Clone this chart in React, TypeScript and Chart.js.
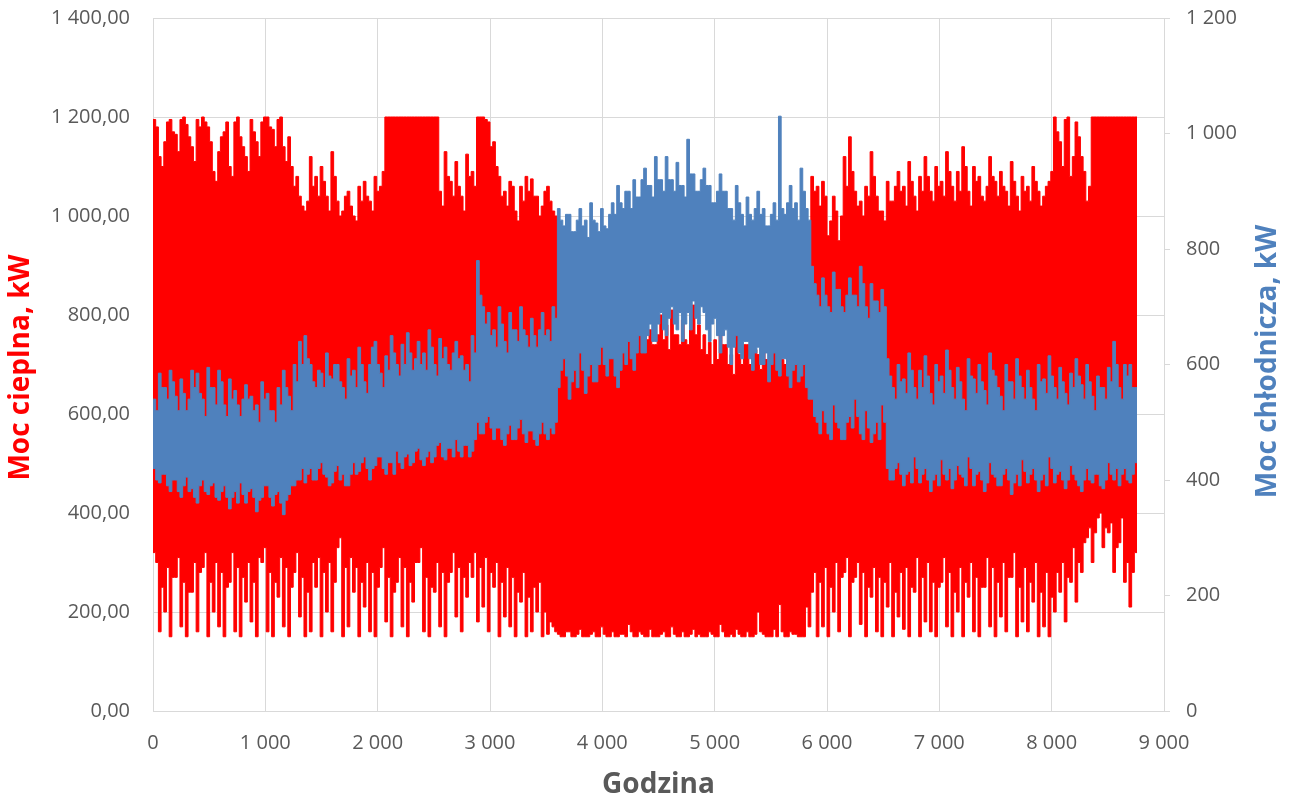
import React, { useEffect, useRef } from 'react';
import { Chart, registerables } from 'chart.js';

Chart.register(...registerables);

// Each value covers one day of the year (bin i = hours 24*i .. 24*i+24).
const BIN_HOURS = 24;
const LAST_HOUR = 8760;

// Heat power (left axis, kW): highest value reached each day
const redHigh: number[] = [
  1195, 1180, 1120, 1100, 1150, 1190, 1195, 1170, 1165, 1130,
  1195, 1200, 1185, 1160, 1140, 1110, 1195, 1180, 1200, 1190,
  1180, 1150, 1090, 1070, 1130, 1160, 1170, 1190, 1100, 1080,
  1190, 1200, 1160, 1140, 1120, 1090, 1195, 1170, 1150, 1120,
  1190, 1200, 1200, 1180, 1175, 1140, 1195, 1200, 1140, 1110,
  1160, 1100, 1060, 1080, 1040, 1020,
  1010, 1030, 1120, 1060, 1080, 1040, 1100, 1070, 1040, 1010,
  1130, 1080, 1030, 1000, 1010, 1040, 1050, 1020, 1000, 990,
  1060, 1030, 1070, 1040, 1030, 1010, 1080, 1050, 1060, 1090,
  1200, 1200, 1200, 1200, 1200, 1200, 1200, 1200, 1200, 1200,
  1200, 1200, 1200, 1200, 1200, 1200, 1200, 1200, 1200, 1200,
  1050, 1020, 1130, 1080, 1070, 1040, 1110, 1060, 1040, 1010, 1125, 1080, 1090, 1060,
  1200, 1200, 1200, 1195, 1190, 1140,
  1150, 1100, 1080, 1040, 1050, 1020, 1070, 1060, 1010, 990,
  1060, 1030, 1080, 1050, 1075, 1040, 1040, 1000, 1020, 1050,
  1060, 1030, 1010, 1000,
  760, 720, 740, 700, 720, 690, 770, 730, 730, 700, 750, 710, 700, 740, 780, 720, 740, 700, 720, 760,
  760, 710, 735, 700, 800, 740, 750, 720, 790, 740, 760, 730, 820, 750, 770, 740, 740, 760, 800, 750,
  780, 730, 810, 760, 760, 740, 790, 750, 740, 770, 820, 760, 780, 730, 760, 720, 745, 700, 750, 710,
  790, 740, 740, 700, 720, 680, 760, 720, 700, 740, 740, 700, 770, 730, 720, 690, 760, 710, 690, 720,
  730, 700, 750, 710, 700, 730, 740, 700, 760, 720, 730, 700, 720, 690,
  1080, 1050, 1060, 1020, 1070, 1040, 960, 990, 1040, 1010, 950, 1000, 1120, 1060, 1160,
  1090, 1050, 1020, 1030, 1000, 1060, 1040, 1130, 1080, 1040, 1010, 1010, 990, 1070, 1030,
  1030, 1060, 1090, 1050, 1060, 1020, 1110, 1070, 1040, 1010, 1080, 1050, 1120, 1080, 1050, 1030, 1100, 1060, 1070, 1040,
  1130, 1090, 1060, 1030, 1090, 1050, 1140, 1100, 1050, 1020, 1100, 1070, 1080, 1040, 1030, 1060, 1120, 1080, 1070, 1040,
  1090, 1060, 1050, 1020, 1110, 1070, 1040, 1010, 1080, 1050, 1060, 1030, 1100, 1070, 1050, 1020, 1040, 1060, 1070, 1090,
  1200, 1170, 1150, 1100, 1195, 1200, 1080, 1120, 1190, 1160, 1120, 1090, 1030, 1060,
  1200, 1200, 1200, 1200, 1200, 1200, 1200, 1200, 1200, 1200, 1200, 1200, 1200, 1200, 1200, 1200, 1200,
];

// Heat power (left axis, kW): lowest value reached each day
const redLow: number[] = [
  320, 300, 160, 250, 200, 290, 150, 270, 270, 310, 170, 260, 150, 240, 240, 300, 160, 280, 290, 320,
  150, 260, 200, 300, 170, 280, 150, 250, 260, 320, 160, 290, 150, 270, 220, 300, 180, 260, 150, 310,
  300, 330, 160, 280, 150, 260, 230, 310, 170, 290, 150, 250, 280, 320, 190, 270, 150, 240, 160, 300,
  250, 310, 150, 280, 200, 300, 160, 260, 330, 350, 150, 290, 170, 310, 240, 290, 150, 260, 210, 300,
  160, 280, 150, 250, 290, 330, 180, 270, 150, 240, 260, 310, 170, 290, 150, 260, 220, 300, 300, 330,
  160, 270, 150, 250, 240, 300, 170, 280, 150, 260, 280, 320, 190, 290, 160, 270, 230, 300, 270, 320,
  180, 290, 210, 310, 160, 280, 250, 300, 150, 260, 190, 290, 170, 270, 150, 240, 220, 280, 150, 230,
  160, 250, 200, 260, 150, 200, 155, 180, 170, 160,
  155, 150, 150, 160, 160, 150, 150, 155, 165, 150, 150, 150, 155, 160, 150, 150, 170, 155, 150, 150,
  160, 150, 150, 155, 155, 150, 175, 160, 150, 150, 160, 155, 150, 150, 165, 150, 150, 150, 155, 160,
  150, 150, 170, 155, 150, 150, 160, 150, 150, 155, 165, 150, 155, 150, 150, 150, 160, 155, 150, 150,
  175, 160, 150, 150, 155, 150, 165, 155, 150, 150, 160, 150, 150, 155, 200, 160, 155, 150, 150, 150,
  165, 150, 215, 160, 150, 150, 160, 155, 155, 150, 150, 150, 210, 170,
  240, 280, 150, 260, 170, 290, 150, 250, 200, 300, 160, 270, 280, 310, 150, 260, 270, 300, 175, 280,
  150, 250, 230, 290, 160, 270, 150, 260, 210, 300, 150, 240, 190, 280, 165, 290, 150, 250, 240, 310,
  150, 270, 180, 300, 160, 260, 150, 250, 260, 310, 170, 280, 150, 240, 200, 290, 150, 260, 230, 300,
  160, 270, 150, 250, 250, 310, 170, 290, 150, 260, 190, 300, 160, 270, 270, 320, 150, 250, 180, 290,
  160, 260, 220, 300, 150, 240, 170, 280, 150, 230, 200, 280, 240, 300, 180, 270, 260, 330, 220, 300,
  280, 340, 350, 370,
  300, 360, 390, 400, 330, 370, 360, 380, 280, 330, 340, 390, 260, 300, 210, 280, 320,
];

// Cooling power (right axis, kW): highest value reached each day
const blueHigh: number[] = [
  540, 520, 585, 560, 560, 540, 590, 570, 545, 520, 575, 550, 520, 540, 590, 560, 585, 550, 540, 510,
  595, 560, 560, 530, 590, 570, 530, 510, 575, 540, 555, 530, 510, 540, 565, 540, 545, 520, 530, 500,
  570, 540, 550, 520, 520, 500, 560, 530, 590, 560, 545, 520, 600, 570, 640, 600,
  650, 610, 600, 570, 560, 590, 585, 560, 620, 580, 575, 600, 600, 570, 560, 540, 610, 580, 590, 560,
  630, 600, 570, 550, 600, 630, 640, 600, 585, 560, 615, 590, 650, 620, 600, 580, 635, 600, 655, 620,
  590, 610, 640, 600, 620, 590, 660, 630, 600, 580, 645, 610, 630, 600, 590, 620, 640, 610, 615, 590,
  600, 570, 650, 620,
  780, 720, 700, 670, 690, 650, 660, 630, 700, 670, 640, 620, 690, 660, 660,
  640, 700, 660, 650, 630, 680, 650, 630, 660, 690, 650, 660, 640, 700, 680,
  870, 850, 840, 860, 860, 830, 830, 850, 870, 840, 850, 820, 880, 850, 845, 830, 870, 840, 835, 860,
  880, 860, 910, 880, 870, 900, 900, 870, 920, 890, 890, 920, 940, 910, 910, 890, 960, 920, 920, 900,
  960, 920, 920, 900, 950, 910, 910, 890, 990, 930, 930, 900, 900, 920, 940, 910, 910, 880, 880, 900,
  930, 900, 900, 870, 870, 850, 910, 880, 860, 840, 890, 860, 850, 870, 900, 860, 870, 840, 840, 860,
  880, 850, 1030, 870, 860, 880, 910, 870, 880, 850, 940, 900, 870, 850,
  770, 740, 720, 700, 750, 720, 700, 690, 760, 730, 730, 700, 690, 720,
  750, 720, 720, 700, 770, 740, 700, 680, 740, 710, 710, 690, 730, 700,
  610, 580, 560, 540, 600, 570, 575, 550, 620, 590, 560, 540, 590, 560, 615, 580, 550, 530, 600, 570,
  580, 550, 625, 590, 560, 540, 595, 570, 540, 520, 610, 580, 575, 550, 600, 570, 555, 530, 620, 590,
  580, 560, 545, 520, 600, 570, 570, 540, 610, 580, 560, 540, 590, 560, 540, 520, 600, 570, 575, 550,
  615, 580, 560, 540, 595, 570, 550, 530, 585, 560, 610, 580, 565, 540, 600, 570, 545, 520, 580, 560,
  560, 540, 595, 570, 640, 600, 560, 540, 600, 580, 600, 560, 560,
];

// Cooling power (right axis, kW): lowest value reached each day
const blueLow: number[] = [
  420, 400, 395, 410, 410, 390, 380, 400, 400, 380, 370, 390, 405, 380, 385, 370, 360, 390, 400, 380,
  375, 390, 395, 370, 365, 380, 390, 370, 350, 370, 380, 360, 395, 375, 360, 380, 385, 370, 345, 365,
  370, 390, 390, 370, 355, 375, 380, 360, 340, 365, 375, 390, 390, 400, 400, 420,
  395, 410, 420, 400, 400, 420, 430, 410, 405, 390, 395, 415, 425, 400, 410, 390, 390, 410, 430, 410,
  415, 430, 440, 420, 400, 420, 425, 440, 440, 420, 410, 430, 430, 410, 450, 430, 420, 440, 445, 425,
  430, 450, 455, 435, 425, 440, 450, 430, 440, 460, 465, 440, 435, 455, 455, 440, 470, 450, 440, 460,
  460, 440, 450, 470,
  500, 480, 480, 500, 510, 490, 470, 490, 490, 470, 460, 480, 495, 470, 470,
  490, 505, 480, 465, 485, 485, 470, 460, 480, 500, 480, 470, 490, 480, 500,
  560, 590, 610, 580, 540, 570, 590, 560, 620, 590, 550, 580, 600, 570, 570, 600, 630, 600, 580, 610,
  610, 580, 560, 590, 620, 600, 640, 610, 590, 620, 650, 620, 620, 650, 670, 640, 640, 670, 690, 660,
  650, 680, 700, 670, 660, 690, 640, 670, 690, 660, 710, 680, 670, 700, 690, 660, 640, 670, 680, 650,
  620, 650, 660, 630, 600, 630, 650, 620, 610, 640, 640, 610, 590, 620, 630, 600, 600, 620, 570, 600,
  620, 590, 580, 610, 610, 580, 560, 590, 600, 570, 580, 600, 560, 540,
  540, 510, 500, 480, 520, 500, 480, 470, 530, 500, 490, 470, 470, 500,
  510, 490, 540, 510, 480, 470, 520, 490, 465, 480, 500, 470, 530, 500,
  420, 400, 400, 420, 430, 410, 390, 410, 415, 395, 440, 420, 395, 410, 420, 400, 380, 400, 410, 390,
  435, 410, 400, 420, 385, 400, 425, 410, 405, 390, 440, 420, 390, 410, 415, 400, 380, 395, 430, 410,
  405, 390, 390, 410, 420, 400, 375, 395, 410, 390, 435, 415, 395, 410, 420, 400, 380, 400, 410, 390,
  440, 420, 395, 410, 415, 400, 385, 400, 425, 410, 400, 390, 380, 400, 420, 400, 395, 410, 410, 390,
  385, 400, 430, 410, 400, 420, 390, 410, 420, 400, 395, 410, 430,
];

const X_MIN = 0;
const X_MAX = 9000;
const X_STEP = 1000;
const LEFT_MAX = 1400;
const RIGHT_MAX = 1200;
const Y_STEP = 200;

const leftTitle = 'Moc cieplna, kW';
const rightTitle = 'Moc chłodnicza, kW';
const xTitle = 'Godzina';

const RED = '#FF0000';
const BLUE = '#4F81BD';
const GRID = '#D9D9D9';
const TEXT = '#595959';
const FONT = '"Open Sans", "DejaVu Sans", sans-serif';

function toPoints(values: number[]) {
  const pts = values.map((v, i) => ({ x: i * BIN_HOURS, y: v }));
  pts.push({ x: LAST_HOUR, y: values[values.length - 1] });
  return pts;
}

function groupThousands(n: number): string {
  return Math.round(n).toString().replace(/\B(?=(\d{3})+(?!\d))/g, ' ');
}

const titlesPlugin = {
  id: 'axisTitlesCustom',
  afterDraw(chart: any) {
    const ctx = chart.ctx as CanvasRenderingContext2D;
    const area = chart.chartArea;
    const midY = (area.top + area.bottom) / 2;
    ctx.save();
    ctx.textAlign = 'center';
    ctx.textBaseline = 'middle';
    ctx.font = `bold 28px ${FONT}`;

    ctx.save();
    ctx.translate(21, midY + 3);
    ctx.rotate(-Math.PI / 2);
    ctx.fillStyle = RED;
    ctx.fillText(leftTitle, 0, 0);
    ctx.restore();

    ctx.save();
    ctx.translate(1268, midY - 3);
    ctx.rotate(-Math.PI / 2);
    ctx.fillStyle = BLUE;
    ctx.fillText(rightTitle, 0, 0);
    ctx.restore();

    ctx.fillStyle = TEXT;
    ctx.fillText(xTitle, (area.left + area.right) / 2, 785);
    ctx.restore();
  },
};

function bandDataset(label: string, values: number[], axis: string, color: string, fill: any, order: number) {
  return {
    label,
    data: toPoints(values),
    yAxisID: axis,
    borderColor: color,
    backgroundColor: color,
    borderWidth: 1,
    pointRadius: 0,
    stepped: true,
    fill,
    order,
  };
}

export default function App() {
  const canvasRef = useRef<HTMLCanvasElement | null>(null);

  useEffect(() => {
    document.body.style.margin = '0';
    const canvas = canvasRef.current;
    if (!canvas) return;

    const chart = new Chart(canvas, {
      type: 'line',
      data: {
        datasets: [
          bandDataset('Moc cieplna (min)', redLow, 'y', RED, false, 2),
          bandDataset('Moc cieplna', redHigh, 'y', RED, '-1', 2),
          bandDataset('Moc chłodnicza (min)', blueLow, 'y1', BLUE, false, 1),
          bandDataset('Moc chłodnicza', blueHigh, 'y1', BLUE, '-1', 1),
        ] as any,
      },
      options: {
        animation: false,
        responsive: false,
        maintainAspectRatio: false,
        layout: { padding: { top: 18, left: 0, right: 0, bottom: 0 } },
        plugins: {
          legend: { display: false },
          tooltip: { enabled: false },
          title: { display: false },
        },
        scales: {
          x: {
            type: 'linear',
            min: X_MIN,
            max: X_MAX,
            grid: {
              color: GRID,
              drawTicks: true,
              tickLength: 20,
              tickColor: 'rgba(0,0,0,0)',
              lineWidth: 1,
            },
            border: { color: GRID },
            ticks: {
              stepSize: X_STEP,
              autoSkip: false,
              maxRotation: 0,
              padding: 0,
              color: TEXT,
              font: { family: FONT, size: 20 },
              callback: (v: any) => groupThousands(Number(v)),
            },
            afterFit: (s: any) => {
              s.height = 90;
              s.paddingLeft = 0;
              s.paddingRight = 0;
            },
          },
          y: {
            type: 'linear',
            position: 'left',
            min: 0,
            max: LEFT_MAX,
            grid: { color: GRID, drawTicks: false },
            border: { color: GRID },
            ticks: {
              stepSize: Y_STEP,
              padding: 23,
              color: TEXT,
              font: { family: FONT, size: 20 },
              callback: (v: any) => groupThousands(Number(v)) + ',00',
            },
            afterFit: (s: any) => {
              s.width = 153;
              s.paddingTop = 0;
              s.paddingBottom = 0;
            },
          },
          y1: {
            type: 'linear',
            position: 'right',
            min: 0,
            max: RIGHT_MAX,
            grid: { color: GRID, drawOnChartArea: false, drawTicks: true, tickLength: 6 },
            border: { color: GRID },
            ticks: {
              stepSize: Y_STEP,
              padding: 16,
              color: TEXT,
              font: { family: FONT, size: 20 },
              callback: (v: any) => groupThousands(Number(v)),
            },
            afterFit: (s: any) => {
              s.width = 131;
              s.paddingTop = 0;
              s.paddingBottom = 0;
            },
          },
        },
      } as any,
      plugins: [titlesPlugin],
    });

    return () => chart.destroy();
  }, []);

  return (
    <div style={{ width: 1295, height: 801, background: '#fff' }}>
      <canvas ref={canvasRef} width={1295} height={801} style={{ display: 'block', width: 1295, height: 801 }} />
    </div>
  );
}
